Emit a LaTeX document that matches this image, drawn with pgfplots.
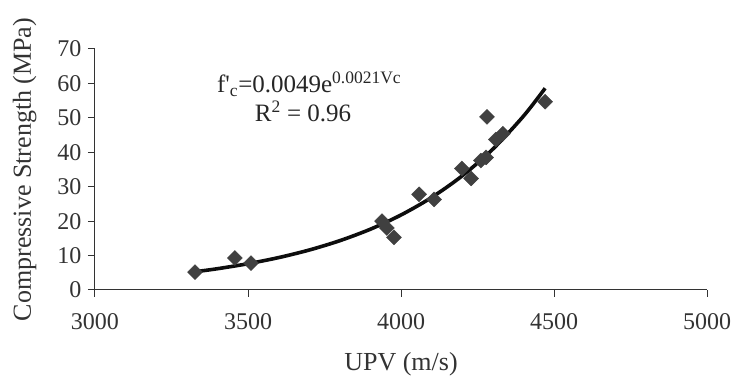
\documentclass[border=0pt]{standalone}
\usepackage{pgfplots}
\pgfplotsset{compat=1.18}
\usepackage{fontspec}
\setmainfont{Liberation Serif}
\begin{document}
\begin{tikzpicture}
\begin{axis}[
  scale only axis,
  width=612pt, height=241pt,
  xmin=3000, xmax=5000, ymin=0, ymax=70,
  xtick={3000,3500,4000,4500,5000},
  ytick={0,10,20,30,40,50,60,70},
  axis lines=left,
  axis line style={-, line width=1pt, color=black!80},
  tick style={line width=1pt, color=black!80},
  tick align=outside,
  major tick length=7pt,
  /pgf/number format/assume math mode=true,
  /pgf/number format/set thousands separator={},
  ticklabel style={font=\fontsize{24}{24}\selectfont, text=black!80},
  xticklabel style={yshift=-13pt},
  yticklabel style={xshift=-3pt},
  xlabel={UPV (m/s)},
  ylabel={Compressive Strength (MPa)},
  label style={font=\fontsize{26}{26}\selectfont, text=black!80},
  xlabel style={yshift=-16pt},
  ylabel style={yshift=14pt},
  clip=false,
]
\addplot[only marks, mark=square*, mark size=5.3pt, color=black!75, mark options={rotate=45}] coordinates {
(3327,5.2) (3457,9.3) (3510,7.8) (3938,20.0) (3954,18.0) (3977,15.3)
(4059,27.8) (4108,26.3) (4199,35.3) (4229,32.4) (4261,37.6) (4278,38.5)
(4281,50.3) (4310,43.7) (4333,45.4) (4471,54.7)
};
\addplot[smooth, line width=3.6pt, color=black!95] coordinates {
(3327,5.30) (3400,6.18) (3500,7.63) (3600,9.41) (3700,11.61) (3800,14.32)
(3900,17.66) (4000,21.79) (4100,26.88) (4200,33.16) (4300,40.91) (4400,50.48) (4471,58.59)
};
\node[font=\fontsize{25}{25}\selectfont, text=black!85, anchor=base] at (axis cs:3700,57.4)
  {f\textquotesingle\textsubscript{c}=0.0049e\textsuperscript{0.0021Vc}};
\node[font=\fontsize{25}{25}\selectfont, text=black!85, anchor=base] at (axis cs:3680,48.8) {R\textsuperscript{2} = 0.96};
\path (rel axis cs:0,0) ++(-95pt,-97pt) rectangle ++(738pt,387pt);
\end{axis}
\end{tikzpicture}
\end{document}
